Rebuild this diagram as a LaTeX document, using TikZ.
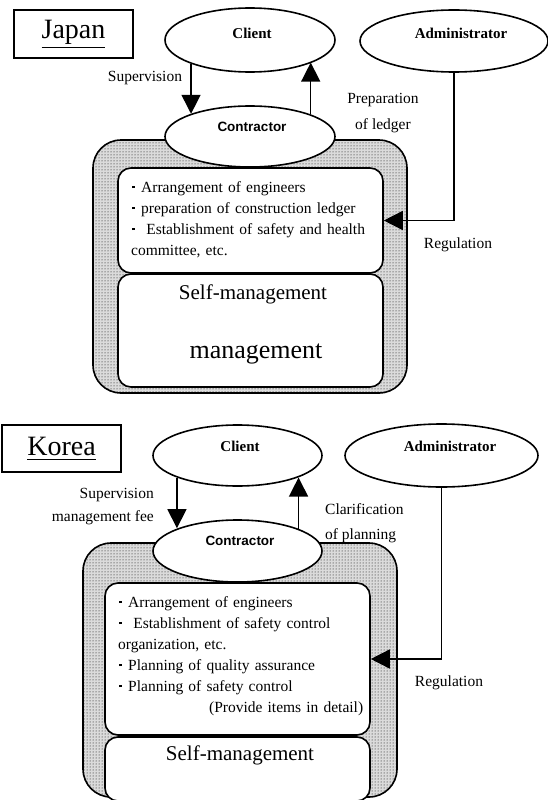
\documentclass[tikz,border=0pt]{standalone}
\usepackage{fontspec}
\setmainfont{Liberation Serif}
\newfontfamily\arialfont{Liberation Sans}
\usetikzlibrary{arrows.meta,patterns,shapes.geometric}
\newcommand{\jpdot}{\makebox[10pt][l]{\hspace{1pt}\rule[4pt]{2.5pt}{2.5pt}}}
\newcommand{\myul}[1]{\leavevmode\vtop{\hbox{#1}\kern3pt\hrule height 1.3pt}}
\begin{document}
\begin{tikzpicture}[x=1pt,y=-1pt,
  ell/.style={draw, ellipse, line width=1.6pt, fill=white, inner sep=0pt},
  arr/.style={line width=1.5pt, -{Triangle[width=19pt,length=19pt]}},
  shell/.style={draw, rectangle, line width=1.6pt, rounded corners=28pt, pattern=dots, pattern color=black, preaction={fill=black!14}, inner sep=0pt},
  inbox/.style={draw, rectangle, line width=1.6pt, rounded corners=13pt, fill=white, inner sep=0pt},
  lbl/.style={font=\fontsize{15.5}{21}\selectfont, inner sep=0pt},
  bname/.style={font=\bfseries\fontsize{15}{18}\selectfont, inner sep=0pt},
  cname/.style={font=\arialfont\bfseries\fontsize{13.5}{16}\selectfont, inner sep=0pt},
  ctitle/.style={draw, rectangle, line width=1.3pt, minimum width=119pt, inner sep=0pt, font=\fontsize{28}{32}\selectfont},
  bigtxt/.style={font=\fontsize{21}{24}\selectfont, inner sep=0pt},
  hugetxt/.style={font=\fontsize{26}{30}\selectfont, inner sep=0pt}
]
\useasboundingbox (0,0) rectangle (547,800);

% ================= Japan =================
\node[ctitle, minimum height=48pt] (tj) at (73.5,34) {\myul{Japan}};

\node[shell, minimum width=314pt, minimum height=253pt] (gj) at (250,266.5) {};
\node[inbox, minimum width=265pt, minimum height=105pt] (tbj) at (250.5,220.5) {};
\node[inbox, minimum width=265pt, minimum height=113pt] (bbj) at (250.5,330.5) {};

\node[ell, minimum width=170pt, minimum height=64pt] (cj) at (250,40) {};
\node[bname] (cjt) at (252,33) {Client};
\node[ell, minimum width=170pt, minimum height=61pt] (ctj) at (250,136.5) {};
\node[cname] (ctjt) at (252,127) {Contractor};
\node[ell, minimum width=188pt, minimum height=62pt] (aj) at (454,41) {};
\node[bname] (ajt) at (461,33) {Administrator};

\draw[arr] (cj.202) -- (cj.202 |- ctj.159);
\draw[arr] (ctj.20.5) -- (ctj.20.5 |- cj.340);
\draw[arr] (aj.south) |- (tbj.east);

\node[lbl] (supj) at (145,78) {Supervision};
\node[lbl, align=center, font=\fontsize{15.5}{26}\selectfont] (prepj) at (383,113) {Preparation\\of ledger};
\node[lbl] (regj) at (458,245) {Regulation};

\node[lbl, anchor=base west, text width=246pt, align=left] (txj) at (131,192)
  {\jpdot Arrangement of engineers\\
   \jpdot preparation of construction ledger\\
   \makebox[246pt][s]{\jpdot{} Establishment of safety and health}\\
   committee, etc.};

\node[bigtxt] (smj) at (253,294) {Self-management};
\node[hugetxt] (mgj) at (256,354) {management};

% ================= Korea =================
\node[ctitle, minimum height=47pt] (tk) at (61.5,448.5) {\myul{Korea}};

\node[shell, minimum width=314pt, minimum height=254pt] (gk) at (240,670) {};
\node[inbox, minimum width=265pt, minimum height=152pt] (tbk) at (237.5,659) {};
\node[inbox, minimum width=265pt, minimum height=64pt] (bbk) at (237.5,769) {};

\node[ell, minimum width=169pt, minimum height=61pt] (ck) at (237.5,455.5) {};
\node[bname] (ckt) at (240,446) {Client};
\node[ell, minimum width=169pt, minimum height=62pt] (ctk) at (237.5,551) {};
\node[cname] (ctkt) at (240,541) {Contractor};
\node[ell, minimum width=193pt, minimum height=63pt] (ak) at (441.5,455.5) {};
\node[bname] (akt) at (450,446) {Administrator};

\draw[arr] (ck.200.6) -- (ck.200.6 |- ctk.159.4);
\draw[arr] (ctk.20.3) -- (ctk.20.3 |- ck.340);
\draw[arr] (ak.south) |- (tbk.east);

\node[lbl, anchor=east, align=right, font=\fontsize{15.5}{23}\selectfont] (supk) at (154,507) {Supervision\\management fee};
\node[lbl, anchor=west, align=left, font=\fontsize{15.5}{25}\selectfont] (clak) at (325,523) {Clarification\\of planning};
\node[lbl] (regk) at (449,683) {Regulation};

\node[lbl, anchor=base west, text width=245pt, align=left] (txk) at (118,607)
  {\jpdot Arrangement of engineers\\
   \makebox[245pt][s]{\jpdot{} Establishment of safety control}\\
   organization, etc.\\
   \jpdot Planning of quality assurance\\
   \jpdot Planning of safety control\\
   \hspace*{\fill}(Provide items in detail)};

\node[bigtxt] (smk) at (240,755) {Self-management};
\end{tikzpicture}
\end{document}
